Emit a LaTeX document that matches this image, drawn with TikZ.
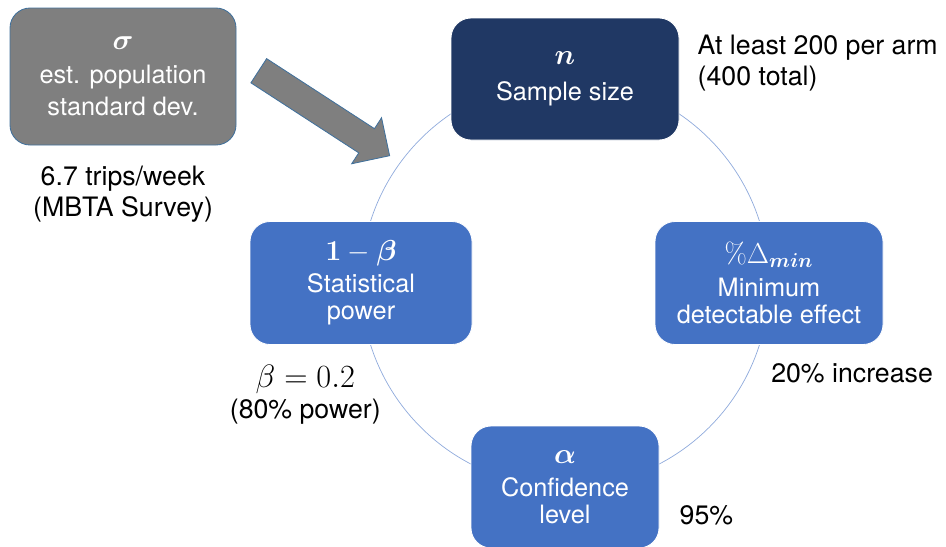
\RequirePackage{fix-cm}
\documentclass[tikz,border=0pt]{standalone}
\usepackage{amsmath,amssymb}
\usepackage[no-math]{fontspec}
\setmainfont{TeX Gyre Heros}
\usepackage{xcolor}
\usepackage{tikz}
\usetikzlibrary{positioning,shapes.arrows,backgrounds}

\definecolor{navybox}{HTML}{203864}
\definecolor{bluebox}{HTML}{4472C4}
\definecolor{greybox}{HTML}{7F7F7F}
\definecolor{edgeblue}{HTML}{41719C}
\definecolor{ringblue}{HTML}{8FAADC}

% math symbol on top of each box, a bit larger than the box text
\newcommand{\symline}[1]{{\fontsize{20.5}{20.5}\selectfont$#1$}}

\begin{document}
\begin{tikzpicture}[
  % --- global style ---
  every node/.style={font=\fontsize{19}{22}\selectfont, inner sep=0pt},
  box/.style={
    draw=white, line width=0.6pt, rounded corners=0.5cm,
    align=center, text=white, inner sep=2pt,
    font=\fontsize{18}{19.5}\selectfont
  },
  cycbox/.style={
    box, fill=bluebox, minimum height=3.075cm
  },
  topbox/.style={
    box, fill=navybox, minimum width=5.7cm, minimum height=3.05cm,
    font=\fontsize{18}{21}\selectfont
  },
  sigbox/.style={
    box, draw=edgeblue, fill=greybox, minimum width=5.65cm,
    minimum height=3.425cm, font=\fontsize{18}{23}\selectfont
  },
  bigarrow/.style={
    single arrow, fill=greybox, draw=edgeblue, line width=0.6pt,
    inner xsep=0pt, inner ysep=0.35cm,
    minimum height=3.9cm, minimum width=1.35cm,
    single arrow head extend=0.325cm, single arrow head indent=0pt
  },
  ring/.style={draw=ringblue, line width=0.5pt},
  note/.style={align=left, text=black},
]

\useasboundingbox (0,0) rectangle (23.65,-13.65);

% ====== Cycle of the four design quantities ======
\coordinate (cyc) at (14.125,-7.075);

\node[topbox] (samp) at ([yshift=5.1cm]cyc)
  {\symline{\boldsymbol{n}}\\[5pt] Sample size};

\node[cycbox, minimum width=5.55cm] (pow) at ([xshift=-5.1cm]cyc)
  {\symline{\mathbf{1}-\boldsymbol{\beta}}\\[3pt] Statistical\\ power};

\node[cycbox, minimum width=5.7cm] (mde) at ([xshift=5.1cm]cyc)
  {\symline{\%\Delta_{\boldsymbol{min}}}\\[4pt] Minimum\\ detectable effect};

\node[cycbox, minimum width=4.7cm, minimum height=3.05cm] (conf)
  at ([yshift=-5.1cm]cyc)
  {\symline{\boldsymbol{\alpha}}\\[4pt] Confidence\\ level};

% --- values next to each box ---
\node[note, right=0.45cm of samp, yshift=0.4cm] (sampval)
  {At least 200 per arm\\(400 total)};
\node[note, align=center, anchor=north east] (powval)
  at ([xshift=0.5cm,yshift=-0.5cm]pow.south)
  {{\fontsize{23}{23}\selectfont$\beta=0.2$}\\(80\% power)};
\node[note, anchor=north west] (mdeval)
  at ([xshift=0.05cm,yshift=-0.45cm]mde.south) {20\% increase};
\node[note, right=0.5cm of conf, yshift=-0.7cm] (confval) {95\%};

% ====== Left: population spread feeding the cycle ======
\node[sigbox] (sig) at (3.075,-1.9125)
  {\symline{\boldsymbol{\sigma}}\\[1pt] est. population\\ standard dev.};
\node[note, align=center, below=0.5cm of sig] (sigval)
  {6.7 trips/week\\(MBTA Survey)};

\node[bigarrow, rotate=-33, anchor=tail] (push)
  at ([xshift=0.55cm,yshift=0.15cm]sig.east) {};

% ring behind the boxes
\begin{pgfonlayer}{background}
  \draw[ring] (cyc) circle (5.1cm);
\end{pgfonlayer}

\end{tikzpicture}
\end{document}
